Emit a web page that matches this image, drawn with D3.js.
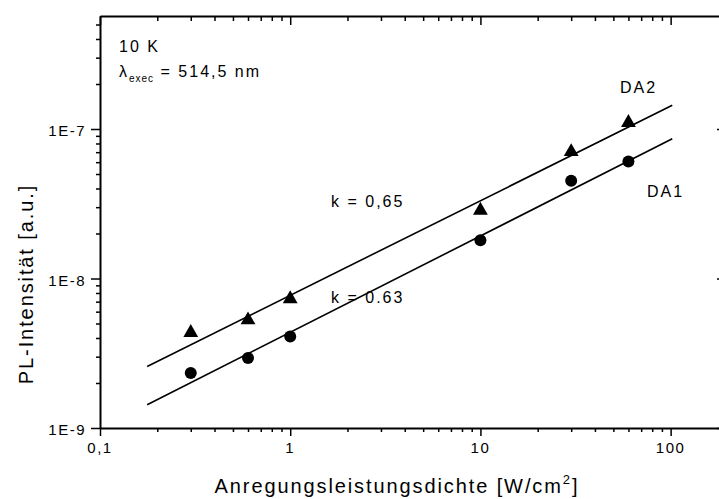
<!DOCTYPE html>
<html>
<head>
<meta charset="utf-8">
<script src="https://cdn.jsdelivr.net/npm/d3@7/dist/d3.min.js"></script>
<style>
  html, body { margin: 0; padding: 0; background: #fff; }
  svg { display: block; }
  text { font-family: "Liberation Sans", Arial, sans-serif; fill: #000; }
</style>
</head>
<body>
<svg id="chart" width="719" height="499"></svg>
<script>
// ---- data ----
const powerDensity = [0.3, 0.6, 1, 10, 30, 60];            // W/cm^2
const da1 = [2.33e-9, 2.94e-9, 4.10e-9, 1.80e-8, 4.50e-8, 6.07e-8]; // circles
const da2 = [4.41e-9, 5.36e-9, 7.42e-9, 2.90e-8, 7.15e-8, 1.12e-7]; // triangles
const fitX = [0.177, 102];
const fitDA1 = [1.43e-9, 8.6e-8];
const fitDA2 = [2.58e-9, 1.44e-7];
const xMajor = [0.1, 1, 10, 100];
const xMajorLabels = ["0,1", "1", "10", "100"];
const yMajor = [1e-9, 1e-8, 1e-7];
const yMajorLabels = ["1E-9", "1E-8", "1E-7"];

// ---- scales ----
const svg = d3.select("#chart");
const L = 100, R = 721, T = 16, B = 428;
const x = d3.scaleLog().domain([0.1, 184]).range([L, R]);
const y = d3.scaleLog().domain([1e-9, 5.7e-7]).range([B, T]);

function minors(lo, hi) {
  const out = [];
  for (let e = Math.floor(Math.log10(lo)) - 1; e <= Math.ceil(Math.log10(hi)); e++) {
    for (let m = 2; m <= 9; m++) {
      const v = m * Math.pow(10, e);
      if (v >= lo && v <= hi) out.push(v);
    }
  }
  return out;
}
const xMinor = minors(0.1, 184);
const yMinor = minors(1e-9, 5.7e-7);

function styleAxis(g) {
  g.select(".domain").attr("stroke", "#000").attr("stroke-width", 2);
  g.selectAll(".tick line").attr("stroke", "#000").attr("stroke-width", 1.5);
  g.selectAll(".tick text").remove();
}

// bottom
svg.append("g").attr("transform", `translate(0,${B})`)
  .call(d3.axisBottom(x).tickValues(xMajor).tickSize(8).tickSizeOuter(0)).call(styleAxis);
svg.append("g").attr("transform", `translate(0,${B})`)
  .call(d3.axisBottom(x).tickValues(xMinor).tickSize(4).tickSizeOuter(0))
  .call(styleAxis).select(".domain").remove();
// top (inward)
svg.append("g").attr("transform", `translate(0,${T})`)
  .call(d3.axisBottom(x).tickValues(xMajor).tickSize(9).tickSizeOuter(0)).call(styleAxis);
svg.append("g").attr("transform", `translate(0,${T})`)
  .call(d3.axisBottom(x).tickValues(xMinor).tickSize(5).tickSizeOuter(0))
  .call(styleAxis).select(".domain").remove();
// left
svg.append("g").attr("transform", `translate(${L},0)`)
  .call(d3.axisLeft(y).tickValues(yMajor).tickSize(9).tickSizeOuter(0)).call(styleAxis);
svg.append("g").attr("transform", `translate(${L},0)`)
  .call(d3.axisLeft(y).tickValues(yMinor).tickSize(4).tickSizeOuter(0))
  .call(styleAxis).select(".domain").remove();
// right (inward)
svg.append("g").attr("transform", `translate(${R},0)`)
  .call(d3.axisLeft(y).tickValues(yMajor).tickSizeInner(4).tickSizeOuter(0)).call(styleAxis);

// tick labels
svg.append("g").selectAll("text").data(xMajor).join("text")
  .attr("x", d => x(d)).attr("y", B + 25)
  .attr("text-anchor", "middle").attr("font-size", 15).attr("letter-spacing", 1.5)
  .text((d, i) => xMajorLabels[i]);
svg.append("g").selectAll("text").data(yMajor).join("text")
  .attr("x", L - 14).attr("y", d => y(d) + 7)
  .attr("text-anchor", "end").attr("font-size", 15).attr("letter-spacing", 1.5)
  .text((d, i) => yMajorLabels[i]);

// axis titles
const xt = svg.append("text").attr("x", 397).attr("y", 493)
  .attr("text-anchor", "middle").attr("font-size", 20).attr("letter-spacing", 1.9);
xt.append("tspan").text("Anregungsleistungsdichte [W/cm");
xt.append("tspan").attr("font-size", 13).attr("dy", -9).text("2");
xt.append("tspan").attr("dy", 9).text("]");

svg.append("text").attr("transform", "translate(33,284) rotate(-90)")
  .attr("text-anchor", "middle").attr("font-size", 20).attr("letter-spacing", 1.9)
  .text("PL-Intensität [a.u.]");

// fit lines
const line = d3.line().x(d => x(d[0])).y(d => y(d[1]));
[fitDA1, fitDA2].forEach(f => {
  svg.append("path").datum(fitX.map((v, i) => [v, f[i]]))
    .attr("d", line).attr("fill", "none").attr("stroke", "#000").attr("stroke-width", 1.6);
});

// markers
svg.append("g").selectAll("circle").data(powerDensity.map((v, i) => [v, da1[i]])).join("circle")
  .attr("cx", d => x(d[0])).attr("cy", d => y(d[1])).attr("r", 6).attr("fill", "#000");
const tri = d3.symbol().type(d3.symbolTriangle).size(95);
svg.append("g").selectAll("path").data(powerDensity.map((v, i) => [v, da2[i]])).join("path")
  .attr("transform", d => `translate(${x(d[0])},${y(d[1]) + 1})`).attr("d", tri).attr("fill", "#000");

// annotations
function ann(txt, ax, ay) {
  return svg.append("text").attr("x", ax).attr("y", ay).attr("font-size", 16)
    .attr("letter-spacing", 2).text(txt);
}
ann("10 K", 119, 52);
const lam = svg.append("text").attr("x", 119).attr("y", 77).attr("font-size", 16).attr("letter-spacing", 2);
lam.append("tspan").text("λ");
lam.append("tspan").attr("font-size", 10).attr("letter-spacing", 1).attr("dy", 5).text("exec");
lam.append("tspan").attr("dy", -5).text(" = 514,5 nm");
ann("DA2", 620, 93);
ann("DA1", 647, 197);
ann("k = 0,65", 331, 207);
ann("k = 0.63", 331, 303);
</script>
</body>
</html>
